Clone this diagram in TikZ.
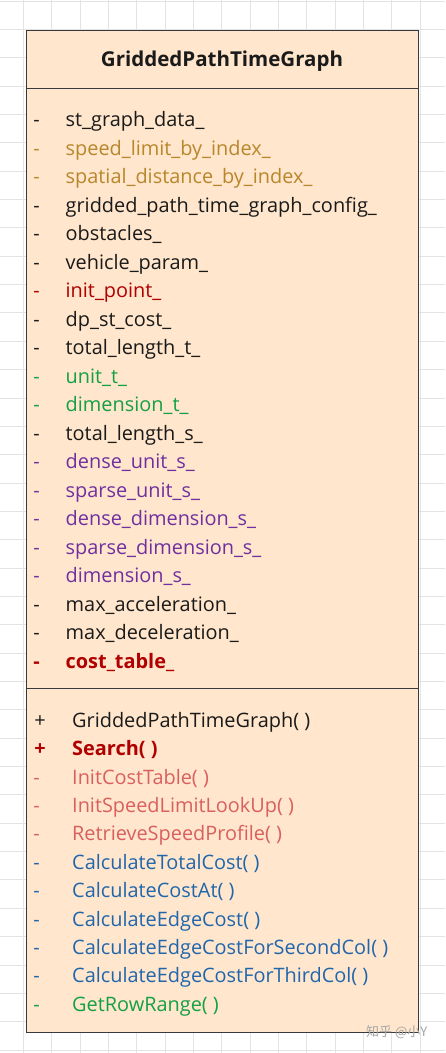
\documentclass[tikz,border=0pt]{standalone}
\usepackage{fontspec}
\setmainfont{Open Sans}
\newfontfamily\cjk{Noto Sans CJK SC}
\definecolor{fillc}{HTML}{FFE6CC}
\definecolor{linec}{HTML}{36393D}
\definecolor{gridc}{HTML}{E3E3E3}
\definecolor{tblack}{HTML}{1A1A1A}
\definecolor{ttan}{HTML}{B8862B}
\definecolor{tred}{HTML}{B00000}
\definecolor{tgreen}{HTML}{14A044}
\definecolor{tpurple}{HTML}{7030A0}
\definecolor{tsalmon}{HTML}{D9605E}
\definecolor{tblue}{HTML}{2066AC}
\tikzset{
  txt/.style={anchor=base west, inner sep=0pt, font=\fontsize{19.9}{22}\selectfont},
  vis/.style={anchor=base, inner sep=0pt, font=\fontsize{19.9}{22}\selectfont},
  boldf/.style={font=\fontsize{19.9}{22}\selectfont\bfseries},
}
\begin{document}
\begin{tikzpicture}[x=1pt,y=-1pt]
\useasboundingbox (0,0) rectangle (445,1053);
\fill[white] (0,0) rectangle (445,1053);
% grid
\foreach \i in {0,...,15} {\draw[gridc,line width=0.8pt] (23.3+28.35*\i,0) -- (23.3+28.35*\i,1053);}
\foreach \j in {0,...,37} {\draw[gridc,line width=0.8pt] (0,1+28.35*\j) -- (445,1+28.35*\j);}
% class box
\node[draw=linec, fill=fillc, line width=1pt, minimum width=392pt, minimum height=1002pt, inner sep=0pt, anchor=north west] (box) at (26,30) {};
\coordinate (s1l) at (26,88.3); \coordinate (s1r) at (418,88.3);
\coordinate (s2l) at (26,688); \coordinate (s2r) at (418,688);
\draw[linec, line width=1pt] (s1l) -- (s1r);
\draw[linec, line width=1pt] (s2l) -- (s2r);
\node[anchor=base, inner sep=0pt, text=tblack, font=\fontsize{20.5}{22}\selectfont\bfseries] (title) at (222,66.7) {GriddedPathTimeGraph};
% attributes
\foreach \t/\c/\k [count=\n from 0] in {
  st\_graph\_data\_/tblack/a0,
  speed\_limit\_by\_index\_/ttan/a1,
  spatial\_distance\_by\_index\_/ttan/a2,
  gridded\_path\_time\_graph\_config\_/tblack/a3,
  obstacles\_/tblack/a4,
  vehicle\_param\_/tblack/a5,
  init\_point\_/tred/a6,
  dp\_st\_cost\_/tblack/a7,
  total\_length\_t\_/tblack/a8,
  unit\_t\_/tgreen/a9,
  dimension\_t\_/tgreen/a10,
  total\_length\_s\_/tblack/a11,
  dense\_unit\_s\_/tpurple/a12,
  sparse\_unit\_s\_/tpurple/a13,
  dense\_dimension\_s\_/tpurple/a14,
  sparse\_dimension\_s\_/tpurple/a15,
  dimension\_s\_/tpurple/a16,
  max\_acceleration\_/tblack/a17,
  max\_deceleration\_/tblack/a18} {
  \node[vis, text=\c] (m\k) at (36.5,126.7+28.5*\n) {-};
  \node[txt, text=\c] (\k) at (65.5,126.7+28.5*\n) {\t};
}
\node[vis, boldf, text=tred] (ma19) at (36.5,668.2) {-};
\node[txt, boldf, text=tred] (a19) at (65.5,668.2) {cost\_table\_};
% methods
\node[vis, text=tblack] (mm0) at (40,727.3) {+};
\node[txt, text=tblack] (m0) at (72,727.3) {GriddedPathTimeGraph( )};
\node[vis, boldf, text=tred] (mm1) at (40,755.7) {+};
\node[txt, boldf, text=tred] (m1) at (72,755.7) {Search( )};
\foreach \t/\c/\k [count=\n from 2] in {
  InitCostTable( )/tsalmon/m2,
  InitSpeedLimitLookUp( )/tsalmon/m3,
  RetrieveSpeedProfile( )/tsalmon/m4,
  CalculateTotalCost( )/tblue/m5,
  CalculateCostAt( )/tblue/m6,
  CalculateEdgeCost( )/tblue/m7,
  CalculateEdgeCostForSecondCol( )/tblue/m8,
  CalculateEdgeCostForThirdCol( )/tblue/m9,
  GetRowRange( )/tgreen/m10} {
  \node[vis, text=\c] (mm\k) at (36.5,727.3+28.4*\n) {-};
  \node[txt, text=\c] (\k) at (72,727.3+28.4*\n) {\t};
}
% watermark
\node[anchor=base west, inner sep=0pt, text=black!35, font=\cjk\fontsize{13}{15}\selectfont] (wm) at (366,1036) {知乎 @小Y};
\end{tikzpicture}
\end{document}
